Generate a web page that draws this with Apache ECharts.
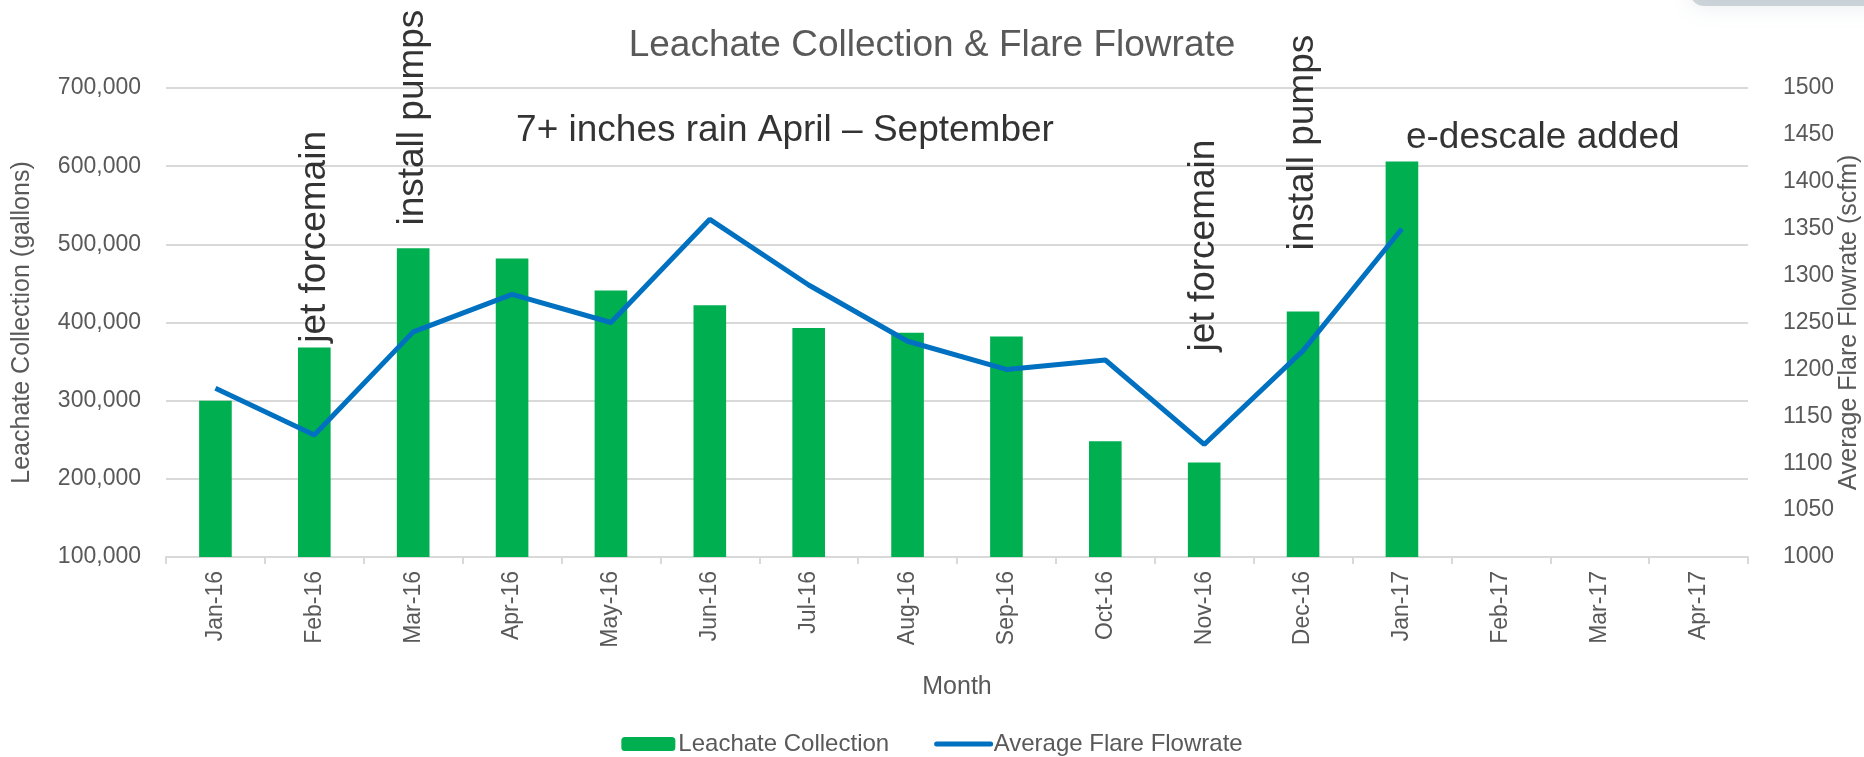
<!DOCTYPE html>
<html>
<head>
<meta charset="utf-8">
<script src="https://cdn.jsdelivr.net/npm/echarts@6/dist/echarts.min.js"></script>
<style>
  html, body { margin: 0; padding: 0; background: #fff; }
  #chart { width: 1864px; height: 757px; }
</style>
</head>
<body>
<div id="chart"></div>
<script>
// 月份
var months = ['Jan-16', 'Feb-16', 'Mar-16', 'Apr-16', 'May-16', 'Jun-16', 'Jul-16', 'Aug-16',
              'Sep-16', 'Oct-16', 'Nov-16', 'Dec-16', 'Jan-17', 'Feb-17', 'Mar-17', 'Apr-17'];
// 渗滤液收集量 (gallons)
var leachate = [300000, 368000, 495000, 482000, 441000, 422000, 393000, 387000,
                382000, 248000, 221000, 414000, 606000, null, null, null];
// 平均火炬流量 (scfm)
var flowrate = [1180, 1130, 1240, 1280, 1250, 1360, 1290, 1230,
                1200, 1210, 1120, 1220, 1350, null, null, null];

// 注释文字
var noteText   = ['jet forcemain', 'install pumps', '7+ inches rain April \u2013 September',
                  'jet forcemain', 'install pumps', 'e-descale added'];
var noteMonth  = ['Feb-16', 'Mar-16', 'Apr-16', 'Nov-16', 'Dec-16', 'Jan-17'];
var noteValue  = [374000, 524000, 645000, 363000, 492000, 636000];
var noteRotate = [90, 90, 0, 90, 90, 0];

var FONT = '"Liberation Sans", Arial, sans-serif';
var GRAY = '#595959';

var myChart = echarts.init(document.getElementById('chart'));

var noteData = noteText.map(function (t, i) {
    return {
        name: t,
        value: [noteMonth[i], noteValue[i]],
        label: {
            rotate: noteRotate[i],
            align: 'left',
            verticalAlign: 'middle',
            offset: noteRotate[i] ? [0, 0] : [4, 0]
        }
    };
});

myChart.setOption({
    animation: false,
    textStyle: { fontFamily: FONT },
    title: {
        text: 'Leachate Collection & Flare Flowrate',
        left: 'center',
        top: 22,
        textStyle: { fontFamily: FONT, fontSize: 37, fontWeight: 'normal', color: GRAY }
    },
    // 右上角背景图残影
    graphic: [{
        type: 'rect',
        shape: { x: 1690, y: -22, width: 240, height: 28, r: 14 },
        style: { fill: 'rgba(125,145,158,0.35)', shadowBlur: 22, shadowColor: 'rgba(125,145,158,0.5)' },
        silent: true
    }],
    legend: {
        data: [
            { name: 'Leachate Collection' },
            { name: 'Average Flare Flowrate', itemStyle: { opacity: 0 }, lineStyle: { width: 5, cap: 'round' } }
        ],
        top: 727,
        left: 'center',
        itemWidth: 54,
        itemHeight: 14,
        itemGap: 45,
        textStyle: { fontFamily: FONT, fontSize: 24, color: GRAY, padding: [0, 0, 0, -2] }
    },
    grid: { left: 166, right: 116, top: 88, bottom: 200, outerBoundsMode: 'none' },
    xAxis: {
        type: 'category',
        data: months,
        name: 'Month',
        nameLocation: 'middle',
        nameGap: 118,
        nameTextStyle: { fontFamily: FONT, fontSize: 25, color: GRAY },
        axisLine: { lineStyle: { color: '#D9D9D9', width: 2 } },
        axisTick: { show: true, length: 7, lineStyle: { color: '#D9D9D9', width: 2 } },
        axisLabel: { rotate: 90, fontFamily: FONT, fontSize: 23, color: GRAY, margin: 14 }
    },
    yAxis: [
        {
            type: 'value',
            min: 100000,
            max: 700000,
            interval: 100000,
            name: 'Leachate Collection (gallons)',
            nameLocation: 'middle',
            nameGap: 131,
            nameMoveOverlap: false,
            nameTextStyle: { fontFamily: FONT, fontSize: 25, color: GRAY },
            axisLine: { show: false },
            axisTick: { show: false },
            splitLine: { lineStyle: { color: '#D9D9D9', width: 2 } },
            axisLabel: {
                fontFamily: FONT, fontSize: 23, color: GRAY, margin: 25,
                formatter: function (v) { return v.toLocaleString('en-US'); }
            }
        },
        {
            type: 'value',
            min: 1000,
            max: 1500,
            interval: 50,
            name: 'Average Flare Flowrate (scfm)',
            nameLocation: 'middle',
            nameGap: 89,
            nameRotate: 90,
            nameMoveOverlap: false,
            nameTextStyle: { fontFamily: FONT, fontSize: 25, color: GRAY },
            axisLine: { show: false },
            axisTick: { show: false },
            splitLine: { show: false },
            axisLabel: {
                fontFamily: FONT, fontSize: 23, color: GRAY, margin: 35,
                formatter: function (v) { return String(v); }
            }
        }
    ],
    series: [
        {
            name: 'Leachate Collection',
            type: 'bar',
            data: leachate,
            barWidth: '33%',
            itemStyle: { color: '#00B050' }
        },
        {
            name: 'Average Flare Flowrate',
            type: 'line',
            yAxisIndex: 1,
            data: flowrate,
            symbol: 'none',
            lineStyle: { color: '#0070C0', width: 5 },
            itemStyle: { color: '#0070C0' }
        },
        {
            name: 'notes',
            type: 'scatter',
            symbolSize: 0,
            data: noteData,
            silent: true,
            label: {
                show: true,
                position: 'inside',
                formatter: '{b}',
                fontFamily: FONT,
                fontSize: 37,
                color: '#000'
            },
            z: 5
        }
    ]
});
</script>
</body>
</html>
